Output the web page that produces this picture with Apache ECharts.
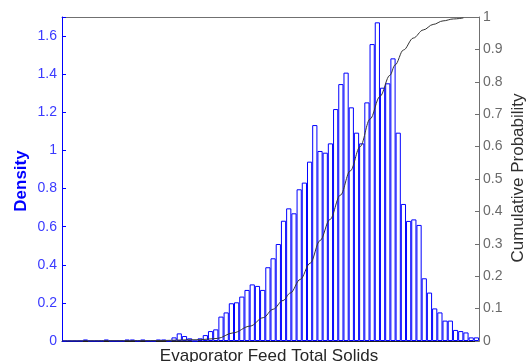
<!DOCTYPE html>
<html>
<head>
<meta charset="utf-8">
<script src="https://cdn.jsdelivr.net/npm/echarts@6/dist/echarts.min.js"></script>
<style>
  html, body { margin: 0; padding: 0; background: #ffffff; }
  #chart { width: 530px; height: 362px; }
</style>
</head>
<body>
<div id="chart"></div>
<script>
// Histogram density per bin (80 equal-width bins across the axis range)
const density = [
  0, 0, 0, 0, 0.008, 0, 0, 0, 0.008, 0,
  0, 0, 0.008, 0.008, 0, 0.008, 0, 0, 0.008, 0.008,
  0, 0.019, 0.040, 0.026, 0.014, 0, 0.014, 0.031, 0.052, 0.061,
  0.128, 0.150, 0.198, 0.203, 0.233, 0.268, 0.297, 0.289, 0.268, 0.387,
  0.434, 0.509, 0.631, 0.696, 0.670, 0.796, 0.831, 0.941, 1.133, 0.997,
  0.988, 1.037, 1.217, 1.348, 1.408, 1.226, 1.093, 1.037, 1.252, 1.558,
  1.672, 1.329, 1.352, 1.483, 1.093, 0.719, 0.630, 0.638, 0.609, 0.329,
  0.254, 0.171, 0.150, 0.107, 0.107, 0.058, 0.052, 0.045, 0.019, 0.019
];

// Cumulative probability curve, x measured in bin widths from the left edge
const cdfX = [0, 16.9, 26.5, 29.8, 32.8, 36.1, 38.6, 40.5, 42.4, 43.8,
  45.7, 47.6, 49.5, 51.4, 53.4, 55.3, 57.2, 59.1, 61.0, 62.9,
  63.9, 65.5, 67.4, 69.3, 71.2, 73.1, 75.1, 77.0];
const cdfP = [0, 0.001, 0.004, 0.008, 0.025, 0.046, 0.072, 0.098, 0.125, 0.148,
  0.19, 0.24, 0.31, 0.375, 0.45, 0.525, 0.60, 0.685, 0.755, 0.82,
  0.852, 0.898, 0.935, 0.96, 0.977, 0.988, 0.994, 0.997];

// Axis settings
const densityMax = 1.7;
const densityStep = 0.2;
const probMax = 1;
const probStep = 0.1;

const xTitle = 'Evaporator Feed Total Solids';
const leftTitle = 'Density';
const rightTitle = 'Cumulative Probability';

const bins = density.map((_, i) => String(i + 1));
const cdfPoints = cdfX.map((x, i) => [x, cdfP[i]]);
const FONT = "'Liberation Sans', Arial, sans-serif";

const chart = echarts.init(document.getElementById('chart'), null, { renderer: 'canvas' });

chart.setOption({
  animation: false,
  backgroundColor: '#ffffff',
  grid: { left: 62, right: 51, top: 17, bottom: 21, containLabel: false },
  xAxis: [
    {
      type: 'category',
      data: bins,
      boundaryGap: true,
      position: 'bottom',
      axisLine: { show: true, onZero: false, lineStyle: { color: '#1e1e1e', width: 1 } },
      axisTick: { show: false },
      axisLabel: { show: false },
      splitLine: { show: false }
    },
    {
      type: 'value',
      min: 0,
      max: density.length,
      position: 'top',
      axisLine: { show: true, onZero: false, lineStyle: { color: '#707070', width: 1 } },
      axisTick: { show: false },
      axisLabel: { show: false },
      splitLine: { show: false }
    }
  ],
  yAxis: [
    {
      type: 'value',
      min: 0,
      max: densityMax,
      interval: densityStep,
      position: 'left',
      axisLine: { show: true, onZero: false, lineStyle: { color: '#0000ff', width: 1 } },
      axisTick: { show: true, inside: true, length: 4, lineStyle: { color: '#0000ff' } },
      axisLabel: {
        color: '#3a3aff',
        fontFamily: FONT,
        fontSize: 14,
        margin: 5,
        formatter: v => (v > 1.65 ? '' : String(+v.toFixed(1)))
      },
      splitLine: { show: false }
    },
    {
      type: 'value',
      min: 0,
      max: probMax,
      interval: probStep,
      position: 'right',
      axisLine: { show: true, onZero: false, lineStyle: { color: '#707070', width: 1 } },
      axisTick: { show: true, inside: true, length: 4, lineStyle: { color: '#707070' } },
      axisLabel: {
        color: '#6a6a6a',
        fontFamily: FONT,
        fontSize: 14,
        margin: 4,
        formatter: v => String(+v.toFixed(1))
      },
      splitLine: { show: false }
    }
  ],
  series: [
    {
      name: leftTitle,
      type: 'bar',
      xAxisIndex: 0,
      yAxisIndex: 0,
      data: density,
      barCategoryGap: '0%',
      barGap: '0%',
      itemStyle: { color: '#ffffff', borderColor: '#0000ff', borderWidth: 1 },
      emphasis: { disabled: true },
      z: 2
    },
    {
      name: rightTitle,
      type: 'line',
      xAxisIndex: 1,
      yAxisIndex: 1,
      data: cdfPoints,
      showSymbol: false,
      smooth: 0.35,
      smoothMonotone: 'x',
      lineStyle: { color: '#333333', width: 1 },
      emphasis: { disabled: true },
      z: 3
    }
  ],
  graphic: [
    {
      type: 'text',
      x: 21, y: 181,
      rotation: Math.PI / 2,
      style: {
        text: leftTitle, fill: '#0000ff',
        font: "bold 17px 'Liberation Sans', Arial, sans-serif",
        align: 'center', verticalAlign: 'middle'
      }
    },
    {
      type: 'text',
      x: 518, y: 178,
      rotation: Math.PI / 2,
      style: {
        text: rightTitle, fill: '#303030',
        font: "17px 'Liberation Sans', Arial, sans-serif",
        align: 'center', verticalAlign: 'middle'
      }
    },
    {
      type: 'text',
      x: 269, y: 356,
      style: {
        text: xTitle, fill: '#262626',
        font: "17px 'Liberation Sans', Arial, sans-serif",
        align: 'center', verticalAlign: 'middle'
      }
    }
  ]
});
</script>
</body>
</html>
